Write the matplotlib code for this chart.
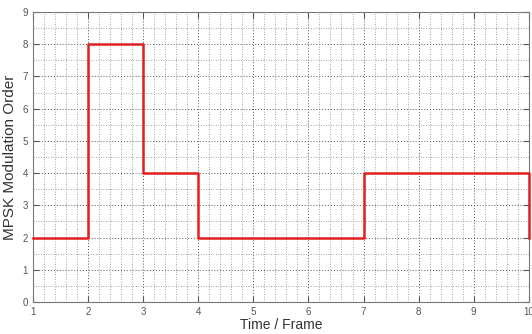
import matplotlib
matplotlib.use('Agg')
import matplotlib.pyplot as plt
from matplotlib.ticker import MultipleLocator

plt.rcParams['font.family'] = ['Liberation Sans', 'DejaVu Sans']

# frame index and modulation order per frame
frames = [1, 2, 3, 4, 5, 6, 7, 8, 9, 10]
order = [2, 8, 4, 2, 2, 2, 4, 4, 4, 2]

fig = plt.figure(figsize=(5.32, 3.34), dpi=100)
ax = fig.add_axes([0.062, 0.096, 0.932, 0.868])

ax.step(frames, order, where='post', color='#e02020', lw=1.8, zorder=3,
        clip_on=False)

ax.set_xlim(1, 10)
ax.set_ylim(0, 9)
ax.xaxis.set_major_locator(MultipleLocator(1))
ax.yaxis.set_major_locator(MultipleLocator(1))
ax.xaxis.set_minor_locator(MultipleLocator(0.2))
ax.yaxis.set_minor_locator(MultipleLocator(0.5))

ax.grid(which='major', color='#555555', linestyle=(0, (1, 2)), lw=0.7)
ax.grid(which='minor', color='#888888', linestyle=(0, (1, 2)), lw=0.6)

ax.tick_params(which='both', direction='in', colors='#555555', labelsize=7,
               top=True, right=True)
ax.tick_params(which='major', length=4)
ax.tick_params(which='minor', length=0)
for s in ax.spines.values():
    s.set_color('#777777')
    s.set_linewidth(0.8)

ax.set_xlabel('Time / Frame', fontsize=10, color='#333333', labelpad=1)
ax.set_ylabel('MPSK Modulation Order', fontsize=11, color='#333333', labelpad=4)

fig.savefig('out.png', dpi=100)
